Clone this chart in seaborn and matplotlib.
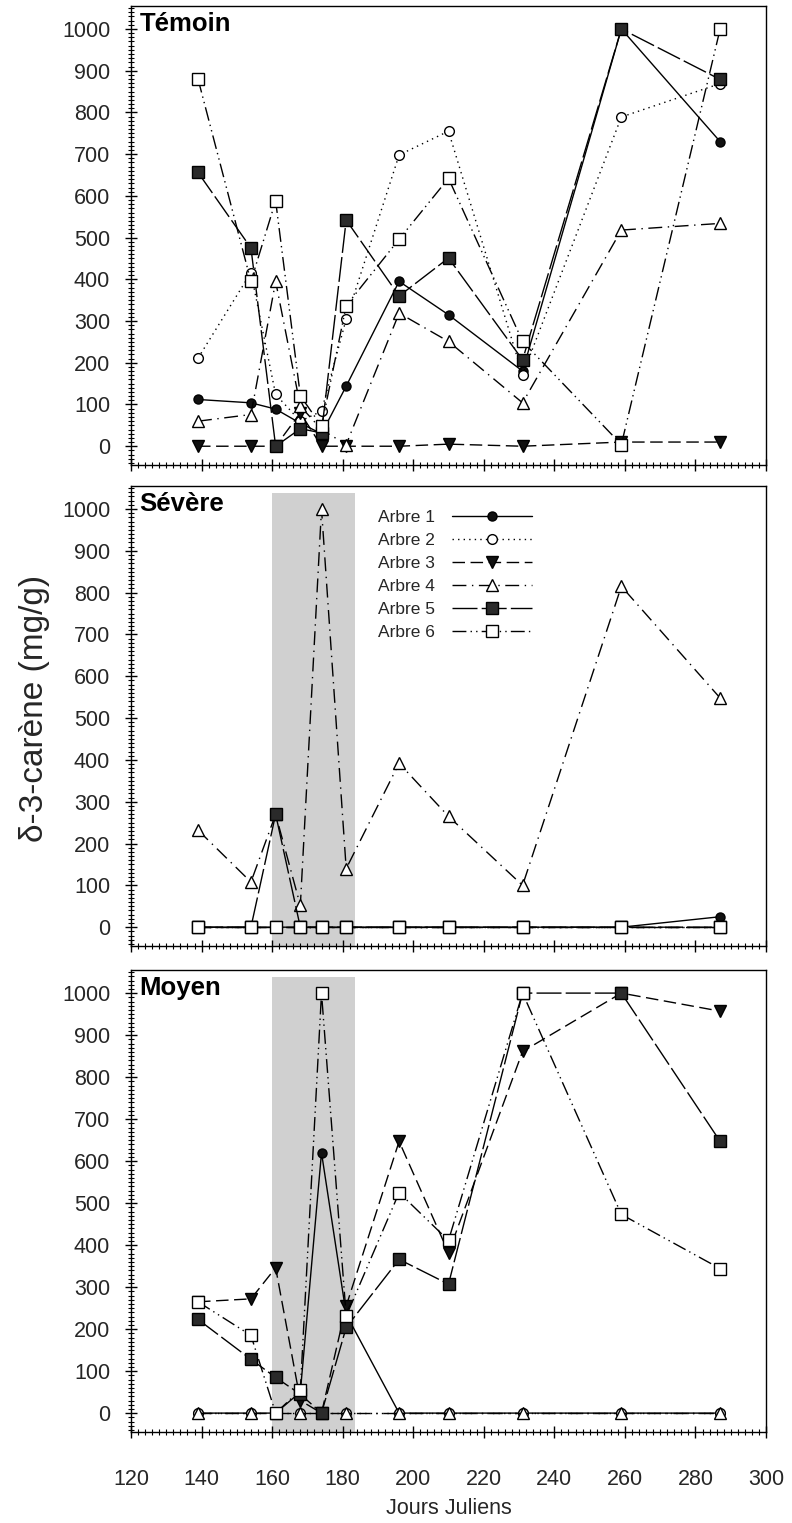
import numpy as np
import pandas as pd
import matplotlib
matplotlib.use("Agg")
import matplotlib.pyplot as plt
from matplotlib.ticker import MultipleLocator
import seaborn as sns

sns.set_theme(style="white")
plt.rcParams['font.family'] = ['Liberation Sans', 'DejaVu Sans']

# ---------------- data ----------------
jours = [139, 154, 161, 168, 174, 181, 196, 210, 231, 259, 287]
arbres = ["Arbre 1", "Arbre 2", "Arbre 3", "Arbre 4", "Arbre 5", "Arbre 6"]
panneaux = ["Témoin", "Sévère", "Moyen"]

temoin_a1 = [112, 104, 89, 55, 30, 144, 395, 315, 180, 1000, 730]
temoin_a2 = [211, 416, 124, 60, 84, 305, 698, 755, 171, 789, 869]
temoin_a3 = [0, 0, 0, 80, 0, 0, 0, 5, 0, 10, 10]
temoin_a4 = [60, 76, 395, 96, 40, 4, 319, 251, 104, 518, 534]
temoin_a5 = [656, 475, 0, 42, 32, 542, 360, 451, 207, 1000, 879]
temoin_a6 = [880, 395, 588, 121, 48, 337, 496, 642, 251, 4, 1000]

severe_a1 = [0, 0, 0, 0, 0, 0, 0, 0, 0, 0, 25]
severe_a2 = [0, 0, 0, 0, 0, 0, 0, 0, 0, 0, 0]
severe_a3 = [0, 0, 0, 0, 0, 0, 0, 0, 0, 0, 0]
severe_a4 = [232, 108, 270, 52, 1000, 140, 392, 265, 100, 815, 548]
severe_a5 = [0, 0, 270, 0, 0, 0, 0, 0, 0, 0, 0]
severe_a6 = [0, 0, 0, 0, 0, 0, 0, 0, 0, 0, 0]

moyen_a1 = [0, 0, 0, 50, 620, 235, 0, 0, 0, 0, 0]
moyen_a2 = [0, 0, 0, 0, 0, 0, 0, 0, 0, 0, 0]
moyen_a3 = [265, 272, 346, 30, 0, 255, 647, 382, 861, 1000, 957]
moyen_a4 = [0, 0, 0, 0, 0, 0, 0, 0, 0, 0, 0]
moyen_a5 = [223, 128, 85, 45, 0, 204, 366, 307, 1000, 1000, 647]
moyen_a6 = [265, 185, 0, 55, 1000, 231, 525, 411, 1000, 473, 344]

y_ticks = [0, 100, 200, 300, 400, 500, 600, 700, 800, 900, 1000]
x_ticks = [120, 140, 160, 180, 200, 220, 240, 260, 280, 300]

series = {
    "Témoin": [temoin_a1, temoin_a2, temoin_a3, temoin_a4, temoin_a5, temoin_a6],
    "Sévère": [severe_a1, severe_a2, severe_a3, severe_a4, severe_a5, severe_a6],
    "Moyen": [moyen_a1, moyen_a2, moyen_a3, moyen_a4, moyen_a5, moyen_a6],
}

rows = []
for p in panneaux:
    for a, vals in zip(arbres, series[p]):
        for j, v in zip(jours, vals):
            rows.append({"Traitement": p, "Arbre": a, "Jour": j, "Valeur": v})
df = pd.DataFrame(rows)

# ---------------- styles ----------------
styles = {
    "Arbre 1": dict(marker="o", ms=6.5, mfc="#111111", ls="-"),
    "Arbre 2": dict(marker="o", ms=7, mfc="white", ls=(0, (1, 3))),
    "Arbre 3": dict(marker="v", ms=9, mfc="#111111", ls=(0, (9, 4))),
    "Arbre 4": dict(marker="^", ms=9, mfc="white", ls=(0, (10, 4, 1, 4))),
    "Arbre 5": dict(marker="s", ms=8, mfc="#2a2a2a", ls=(0, (18, 3))),
    "Arbre 6": dict(marker="s", ms=8.5, mfc="white", ls=(0, (10, 3, 1, 3, 1, 3))),
}

W, H = 792, 1523
fig = plt.figure(figsize=(W / 100, H / 100), dpi=100)
fig.patch.set_facecolor("white")

boxes = [(6, 465), (486, 946), (970, 1432)]
left, right = 131, 766
axes = []
for (top, bot) in boxes:
    ax = fig.add_axes([left / W, 1 - bot / H, (right - left) / W, (bot - top) / H])
    axes.append(ax)

for i, (ax, p) in enumerate(zip(axes, panneaux)):
    ax.set_facecolor("white")
    if p != "Témoin":
        ax.axvspan(160, 183.5, ymin=0, ymax=0.985, color="#d0d0d0", zorder=0, lw=0)
    sub = df[df["Traitement"] == p]
    for a in arbres:
        d = sub[sub["Arbre"] == a]
        st = styles[a]
        sns.lineplot(data=d, x="Jour", y="Valeur", ax=ax, color="black",
                     marker=st["marker"], markersize=st["ms"],
                     markerfacecolor=st["mfc"], markeredgecolor="black",
                     markeredgewidth=1.0, linestyle=st["ls"], linewidth=1.0,
                     label=a, legend=False, zorder=3, errorbar=None)
    ax.set_xlim(120, 300)
    ax.set_ylim(-45, 1055)
    ax.set_yticks(y_ticks)
    ax.set_xticks(x_ticks)
    ax.yaxis.set_minor_locator(MultipleLocator(10))
    ax.xaxis.set_minor_locator(MultipleLocator(2))
    ax.tick_params(axis="both", which="major", direction="inout", length=9,
                   width=1.0, color="black", labelsize=15.5, left=True, bottom=True)
    ax.tick_params(axis="both", which="minor", direction="inout", length=5,
                   width=0.8, color="black", left=True, bottom=True)
    ax.tick_params(axis="y", pad=10.5)
    ax.tick_params(axis="x", pad=22)
    for s in ax.spines.values():
        s.set_visible(True)
        s.set_color("black")
        s.set_linewidth(1.0)
    ax.set_xlabel("")
    ax.set_ylabel("")
    ax.grid(False)
    if i < 2:
        ax.tick_params(axis="x", labelbottom=False)
    ax.text(0.013, 0.988, p, transform=ax.transAxes, ha="left", va="top",
            fontsize=18.5, fontweight="bold", color="black")

# legend in middle panel, markers after text
handles = [l for l in axes[1].get_lines() if l.get_label() in arbres]
axes[1].legend(handles=handles, labels=arbres, loc="upper left",
               bbox_to_anchor=(0.37, 0.975), frameon=False, markerfirst=False,
               fontsize=12.5, handlelength=4.6, handletextpad=1.0,
               labelspacing=0.45, borderpad=0.2)

axes[2].set_xlabel("Jours Juliens", fontsize=15.5, labelpad=6)
fig.text(35 / W, 1 - 708 / H, "δ-3-carène (mg/g)", rotation=90, ha="center",
         va="center", fontsize=24)

fig.savefig("out.png", dpi=100, facecolor="white")
